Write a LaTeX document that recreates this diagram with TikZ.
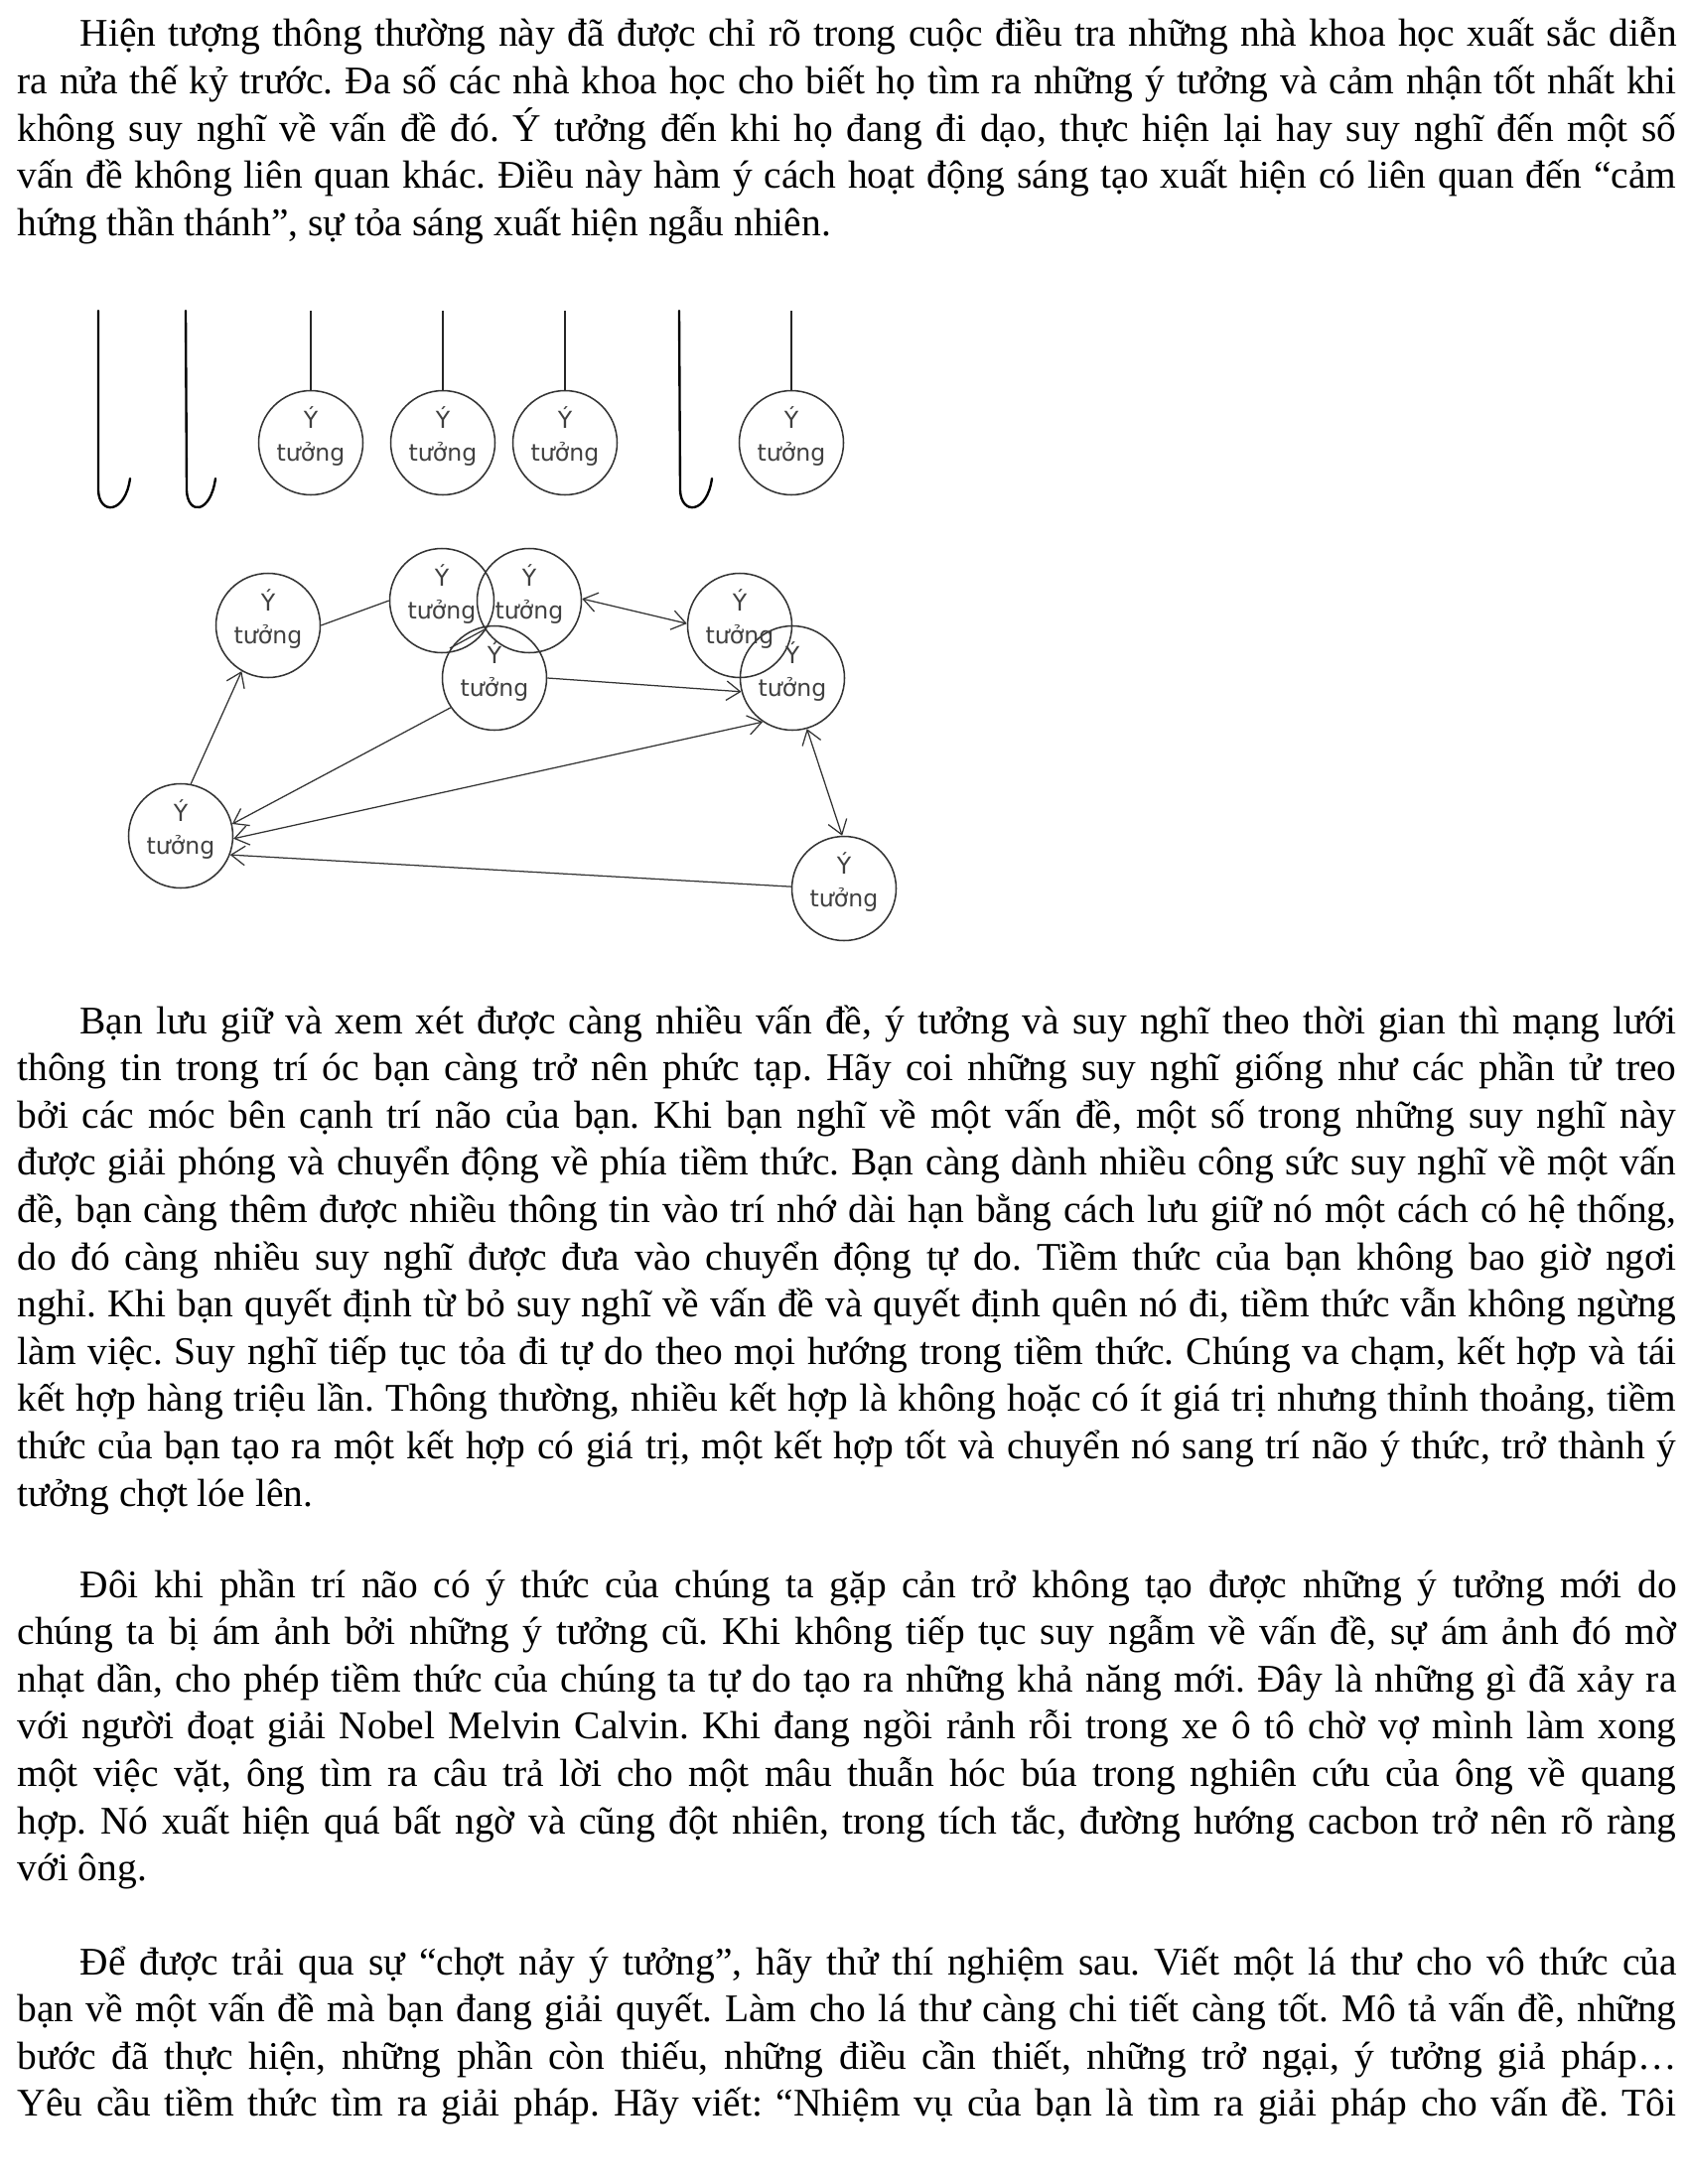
\documentclass[tikz,border=0pt]{standalone}
\usepackage{fontspec}
\setmainfont{Liberation Serif}
\newfontfamily\ideafont{DejaVu Sans}
\usetikzlibrary{arrows.meta,calc}
\frenchspacing
\begin{document}
\frenchspacing
\begin{tikzpicture}[x=0.36pt,y=-0.36pt,
  txt/.style={anchor=base west,inner sep=0pt,font=\fontsize{14.2}{17}\selectfont},
  idea/.style={circle,draw=black!80,line width=0.55pt,minimum size=37.8pt,inner sep=0pt},
  ideatext/.style={font=\ideafont\fontsize{8.5}{11.9}\selectfont,text=black!75,align=center,inner sep=0pt},
  hookline/.style={line width=0.85pt,black},
  string/.style={line width=0.65pt,black!85},
  conn/.style={line width=0.45pt,black!80},
  tipend/.style={-{Straight Barb[length=5pt,width=7pt]}},
  tipboth/.style={{Straight Barb[length=5pt,width=7pt]}-{Straight Barb[length=5pt,width=7pt]}},
]
\useasboundingbox (0,0) rectangle (1700,2200);
\fill[white] (0,0) rectangle (1700,2200);
\def\FW{601.5pt}
\def\IW{578.9pt}
% ---------- paragraph 1
\node[txt] (p1a) at (80,47) {\makebox[\IW][s]{Hiện tượng thông thường này đã được chỉ rõ trong cuộc điều tra những nhà khoa học xuất sắc diễn}};
\node[txt] (p1b) at (17,94.6) {\makebox[\FW][s]{ra nửa thế kỷ trước. Đa số các nhà khoa học cho biết họ tìm ra những ý tưởng và cảm nhận tốt nhất khi}};
\node[txt] (p1c) at (17,142.2) {\makebox[\FW][s]{không suy nghĩ về vấn đề đó. Ý tưởng đến khi họ đang đi dạo, thực hiện lại hay suy nghĩ đến một số}};
\node[txt] (p1d) at (17,189.8) {\makebox[\FW][s]{vấn đề không liên quan khác. Điều này hàm ý cách hoạt động sáng tạo xuất hiện có liên quan đến “cảm}};
\node[txt] (p1e) at (17,237.4) {hứng thần thánh”, sự tỏa sáng xuất hiện ngẫu nhiên.};
% ---------- hooks
\draw[hookline,line cap=round] (99,313) -- (99,494) .. controls (100,519) and (126,518) .. (131,482);
\draw[hookline,line cap=round] (187,313) -- (188,494) .. controls (189,519) and (212,518) .. (217,482);
\draw[hookline,line cap=round] (684,313) -- (685,494) .. controls (686,519) and (712,518) .. (717,482);
% ---------- hanging ideas
\node[idea] (U1) at (313,446) {};
\node[idea] (U2) at (446,446) {};
\node[idea] (U3) at (569,446) {};
\node[idea] (U4) at (797,446) {};
\foreach \n in {1,2,3,4}{
  \node[ideatext] (UT\n) at ($(U\n)+(0,-6.5)$) {Ý\\tưởng};
}
\coordinate (s1) at (313,313);
\coordinate (s2) at (446,313);
\coordinate (s3) at (569,313);
\coordinate (s4) at (797,313);
\foreach \n in {1,2,3,4}{
  \draw[string] (s\n) -- (U\n.north);
}
% ---------- network of ideas
\node[idea] (C1) at (270,630) {};
\node[idea] (C2) at (445,605) {};
\node[idea] (C3) at (533,605) {};
\node[idea] (C4) at (498,683) {};
\node[idea] (C5) at (745,630) {};
\node[idea] (C6) at (798,683) {};
\node[idea] (C7) at (182,842) {};
\node[idea] (C8) at (850,895) {};
\foreach \n in {1,...,8}{
  \node[ideatext] (CT\n) at ($(C\n)+(0,-6.5)$) {Ý\\tưởng};
}
\draw[conn] (C1.east) -- (C2.west);
\draw[conn,tipend] (C7.79) -- (C1.240);
\draw[conn,tipend] (C4.214) -- (C7.13);
\draw[conn,tipboth] (C7.357) -- (C6.236);
\draw[conn,tipend] (C8.178) -- (C7.339);
\draw[conn,tipend] (C4.0) -- (C6.195);
\draw[conn,tipboth] (C3.2) -- (C5.178);
\draw[conn,tipboth] (C6.286) -- (C8.92);
\coordinate (m1) at (453,653);
\coordinate (m2) at (490,633);
\draw[conn] (m1) -- (m2);
% ---------- paragraph 2
\node[txt] (p2a) at (80,1041) {\makebox[\IW][s]{Bạn lưu giữ và xem xét được càng nhiều vấn đề, ý tưởng và suy nghĩ theo thời gian thì mạng lưới}};
\node[txt] (p2b) at (17,1088.6) {\makebox[\FW][s]{thông tin trong trí óc bạn càng trở nên phức tạp. Hãy coi những suy nghĩ giống như các phần tử treo}};
\node[txt] (p2c) at (17,1136.2) {\makebox[\FW][s]{bởi các móc bên cạnh trí não của bạn. Khi bạn nghĩ về một vấn đề, một số trong những suy nghĩ này}};
\node[txt] (p2d) at (17,1183.8) {\makebox[\FW][s]{được giải phóng và chuyển động về phía tiềm thức. Bạn càng dành nhiều công sức suy nghĩ về một vấn}};
\node[txt] (p2e) at (17,1231.4) {\makebox[\FW][s]{đề, bạn càng thêm được nhiều thông tin vào trí nhớ dài hạn bằng cách lưu giữ nó một cách có hệ thống,}};
\node[txt] (p2f) at (17,1279) {\makebox[\FW][s]{do đó càng nhiều suy nghĩ được đưa vào chuyển động tự do. Tiềm thức của bạn không bao giờ ngơi}};
\node[txt] (p2g) at (17,1326.6) {\makebox[\FW][s]{nghỉ. Khi bạn quyết định từ bỏ suy nghĩ về vấn đề và quyết định quên nó đi, tiềm thức vẫn không ngừng}};
\node[txt] (p2h) at (17,1374.2) {\makebox[\FW][s]{làm việc. Suy nghĩ tiếp tục tỏa đi tự do theo mọi hướng trong tiềm thức. Chúng va chạm, kết hợp và tái}};
\node[txt] (p2i) at (17,1421.8) {\makebox[\FW][s]{kết hợp hàng triệu lần. Thông thường, nhiều kết hợp là không hoặc có ít giá trị nhưng thỉnh thoảng, tiềm}};
\node[txt] (p2j) at (17,1469.4) {\makebox[\FW][s]{thức của bạn tạo ra một kết hợp có giá trị, một kết hợp tốt và chuyển nó sang trí não ý thức, trở thành ý}};
\node[txt] (p2k) at (17,1517) {tưởng chợt lóe lên.};
% ---------- paragraph 3
\node[txt] (p3a) at (80,1609) {\makebox[\IW][s]{Đôi khi phần trí não có ý thức của chúng ta gặp cản trở không tạo được những ý tưởng mới do}};
\node[txt] (p3b) at (17,1656.6) {\makebox[\FW][s]{chúng ta bị ám ảnh bởi những ý tưởng cũ. Khi không tiếp tục suy ngẫm về vấn đề, sự ám ảnh đó mờ}};
\node[txt] (p3c) at (17,1704.2) {\makebox[\FW][s]{nhạt dần, cho phép tiềm thức của chúng ta tự do tạo ra những khả năng mới. Đây là những gì đã xảy ra}};
\node[txt] (p3d) at (17,1751.8) {\makebox[\FW][s]{với người đoạt giải Nobel Melvin Calvin. Khi đang ngồi rảnh rỗi trong xe ô tô chờ vợ mình làm xong}};
\node[txt] (p3e) at (17,1799.4) {\makebox[\FW][s]{một việc vặt, ông tìm ra câu trả lời cho một mâu thuẫn hóc búa trong nghiên cứu của ông về quang}};
\node[txt] (p3f) at (17,1847) {\makebox[\FW][s]{hợp. Nó xuất hiện quá bất ngờ và cũng đột nhiên, trong tích tắc, đường hướng cacbon trở nên rõ ràng}};
\node[txt] (p3g) at (17,1894.6) {với ông.};
% ---------- paragraph 4
\node[txt] (p4a) at (80,1989) {\makebox[\IW][s]{Để được trải qua sự “chợt nảy ý tưởng”, hãy thử thí nghiệm sau. Viết một lá thư cho vô thức của}};
\node[txt] (p4b) at (17,2036.6) {\makebox[\FW][s]{bạn về một vấn đề mà bạn đang giải quyết. Làm cho lá thư càng chi tiết càng tốt. Mô tả vấn đề, những}};
\node[txt] (p4c) at (17,2084.2) {\makebox[\FW][s]{bước đã thực hiện, những phần còn thiếu, những điều cần thiết, những trở ngại, ý tưởng giả pháp…}};
\node[txt] (p4d) at (17,2131.8) {\makebox[\FW][s]{Yêu cầu tiềm thức tìm ra giải pháp. Hãy viết: “Nhiệm vụ của bạn là tìm ra giải pháp cho vấn đề. Tôi}};
\end{tikzpicture}
\end{document}
